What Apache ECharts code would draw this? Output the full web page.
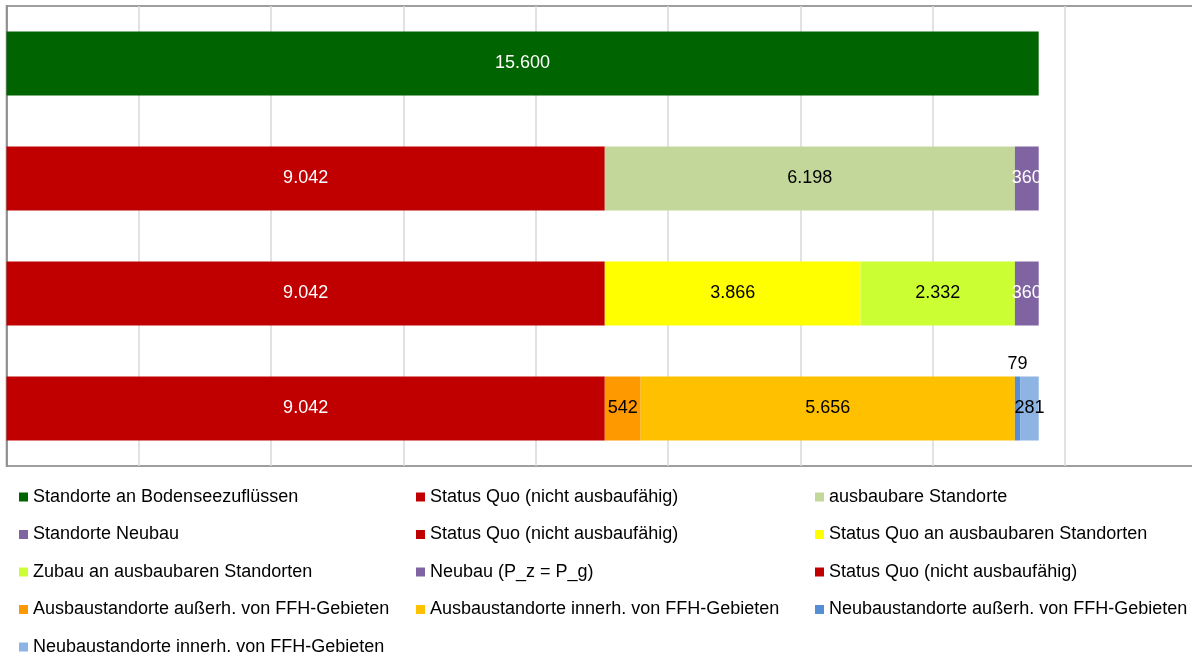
<!DOCTYPE html>
<html>
<head>
<meta charset="utf-8">
<script src="https://cdn.jsdelivr.net/npm/echarts@6/dist/echarts.min.js"></script>
<style>html,body{margin:0;padding:0;background:#fff}#c{width:1192px;height:659px}</style>
</head>
<body>
<div id="c"></div>
<script>
// ---- data ----
const categories = ['Bodenseezuflüsse', 'Ausbaupotenzial', 'Status Quo / Zubau', 'FFH-Gebiete'];
const tickValues = [0, 2000, 4000, 6000, 8000, 10000, 12000, 14000, 16000, 18000];

const seriesNames = [
  'Standorte an Bodenseezuflüssen',
  'Status Quo (nicht ausbaufähig)',
  'ausbaubare Standorte',
  'Standorte Neubau',
  'Status Quo (nicht ausbaufähig)',
  'Status Quo an ausbaubaren Standorten',
  'Zubau an ausbaubaren Standorten',
  'Neubau (P_z = P_g)',
  'Status Quo (nicht ausbaufähig)',
  'Ausbaustandorte außerh. von FFH-Gebieten',
  'Ausbaustandorte innerh. von FFH-Gebieten',
  'Neubaustandorte außerh. von FFH-Gebieten',
  'Neubaustandorte innerh. von FFH-Gebieten'
];
const seriesColors = ['#006400', '#C00000', '#C4D79B', '#8064A2', '#C00000', '#FFFF00', '#CCFF33', '#8064A2', '#C00000', '#FF9900', '#FFC000', '#558ED5', '#8EB4E3'];

const standorteBodensee   = [15600, null, null, null];
const statusQuo1          = [null, 9042, null, null];
const ausbaubareStandorte = [null, 6198, null, null];
const standorteNeubau     = [null, 360, null, null];
const statusQuo2          = [null, null, 9042, null];
const statusQuoAusbaubar  = [null, null, 3866, null];
const zubauAusbaubar      = [null, null, 2332, null];
const neubauPzPg          = [null, null, 360, null];
const statusQuo3          = [null, null, null, 9042];
const ausbauAusserhFFH    = [null, null, null, 542];
const ausbauInnerhFFH     = [null, null, null, 5656];
const neubauAusserhFFH    = [null, null, null, 79];
const neubauInnerhFFH     = [null, null, null, 281];

const seriesValues = [standorteBodensee, statusQuo1, ausbaubareStandorte, standorteNeubau,
  statusQuo2, statusQuoAusbaubar, zubauAusbaubar, neubauPzPg,
  statusQuo3, ausbauAusserhFFH, ausbauInnerhFFH, neubauAusserhFFH, neubauInnerhFFH];
const whiteLabel = [true, true, false, true, true, false, false, true, true, false, false, false, false];

// ---- build ----
const fmt = v => String(v).replace(/\B(?=(\d{3})+(?!\d))/g, '.');
// make names unique with zero-width spaces so the legend keeps duplicates
const seen = {};
const uniqNames = seriesNames.map(n => {
  seen[n] = (seen[n] || 0) + 1;
  return n + '\u200B'.repeat(seen[n] - 1);
});
const FONT = '"Liberation Sans", Arial, sans-serif';

const series = seriesValues.map((vals, i) => ({
  type: 'bar',
  name: uniqNames[i],
  stack: 'total',
  barWidth: 64,
  data: vals,
  itemStyle: { color: seriesColors[i] },
  label: {
    show: true,
    position: vals[3] === 79 ? 'top' : 'inside',
    distance: 3,
    color: whiteLabel[i] ? '#fff' : '#000',
    fontFamily: FONT,
    fontSize: 18,
    formatter: p => (p.value == null ? '' : fmt(p.value))
  },
  emphasis: { disabled: true }
}));

const legendCols = [[0, 3, 6, 9], [12], [1, 4, 7, 10], [2, 5, 8, 11]];
const legendLeft = [19, 19, 416, 815];
const legendTop = [488, 488 + 4 * 37.5, 488, 488];
const legendBase = {
  orient: 'vertical',
  itemWidth: 9,
  itemHeight: 9,
  itemGap: 19.5,
  padding: 0,
  icon: 'rect',
  selectedMode: false,
  textStyle: { fontFamily: FONT, fontSize: 18, color: '#000', lineHeight: 18 }
};

const chart = echarts.init(document.getElementById('c'), null, { renderer: 'canvas' });
chart.setOption({
  animation: false,
  backgroundColor: '#fff',
  grid: { left: 6.5, top: 6, width: 1191, height: 460, outerBoundsMode: 'none', show: true, borderColor: '#808080', borderWidth: 1.5, backgroundColor: 'transparent' },
  xAxis: {
    type: 'value', min: tickValues[0], max: tickValues[tickValues.length - 1], interval: tickValues[1] - tickValues[0],
    axisLabel: { show: false }, axisTick: { show: false }, axisLine: { show: false },
    splitLine: { show: true, lineStyle: { color: '#D9D9D9', width: 1.5 } }
  },
  yAxis: {
    type: 'category', data: categories, inverse: true,
    axisLabel: { show: false }, axisTick: { show: false },
    axisLine: { show: true, lineStyle: { color: '#808080', width: 1.5 } }
  },
  legend: legendCols.map((idx, k) => Object.assign({}, legendBase, {
    left: legendLeft[k], top: legendTop[k], data: idx.map(i => uniqNames[i])
  })),
  series: series
});
</script>
</body>
</html>
